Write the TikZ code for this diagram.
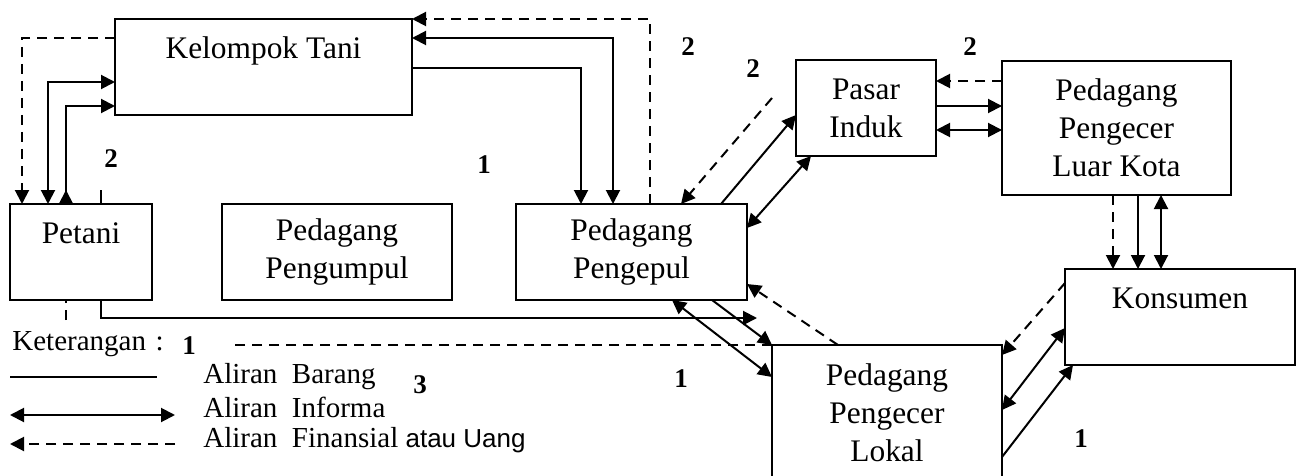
\documentclass[tikz,border=0pt]{standalone}
\usepackage{fontspec}
\setmainfont{Liberation Serif}
\newfontfamily\legsans{Liberation Sans}
\usetikzlibrary{arrows.meta, positioning}

\begin{document}
\begin{tikzpicture}[
    x=0.5pt, y=-0.5pt,
    box/.style={draw, line width=1pt, inner sep=0pt, outer sep=0pt, align=center, font=\fontsize{15.7}{19}\selectfont},
    num/.style={font=\fontsize{13.5}{16}\selectfont\bfseries, inner sep=0pt},
    legtext/.style={font=\fontsize{14.5}{17}\selectfont, inner sep=0pt},
    barang/.style={line width=1pt, -{Triangle[length=7pt,width=7pt]}},
    info/.style={line width=1pt, {Triangle[length=7pt,width=7pt]}-{Triangle[length=7pt,width=7pt]}},
    uang/.style={line width=1pt, dash pattern=on 5pt off 3.5pt, -{Triangle[length=7pt,width=7pt]}}
  ]
  \useasboundingbox (0,0) rectangle (1306,476);

  % Actors
  \node[box, minimum width=148.5pt, minimum height=48pt] (kt) at (263.5,67) {Kelompok Tani\\\mbox{}};
  \node[box, minimum width=71pt, minimum height=48pt] (pt) at (81,252) {Petani\\\mbox{}};
  \node[box, minimum width=115pt, minimum height=48pt] (pu) at (337,252) {Pedagang\\Pengumpul};
  \node[box, minimum width=115.5pt, minimum height=48pt] (pp) at (631.5,252) {Pedagang\\Pengepul};
  \node[box, minimum width=70pt, minimum height=48pt] (pi) at (866,108) {Pasar\\Induk};
  \node[box, minimum width=114.5pt, minimum height=67pt] (lk) at (1116.5,128) {Pedagang\\Pengecer\\Luar Kota};
  \node[box, minimum width=115pt, minimum height=48pt] (ks) at (1180,317) {Konsumen\\\mbox{}};
  \node[box, minimum width=115pt, minimum height=68pt] (pl) at (887,413) {Pedagang\\Pengecer\\Lokal};

  % Petani <-> Kelompok Tani
  \draw[uang] (kt.west |- 0,38) -| (pt.north -| 22,0);
  \draw[info] (pt.north -| 48,0) |- (kt.west |- 0,82);
  \draw[line width=1pt, {Triangle[reversed,length=7pt,width=7pt]}-{Triangle[length=7pt,width=7pt]}] (pt.north -| 66,0) |- (kt.west |- 0,106);
  \coordinate (stubTop) at (101,190);
  \draw[line width=1pt] (pt.north -| stubTop) -- (stubTop);

  % Petani -> Pengecer Lokal
  \draw[uang, -] (pl.north west) -| (pt.south -| 66,0);
  \coordinate (barangEnd) at (757,318);
  \draw[barang] (pt.south -| 101,0) |- (barangEnd);

  % Kelompok Tani <-> Pengepul
  \draw[uang] (pp.north -| 650,0) |- (kt.north east);
  \draw[info] (pp.north -| 613,0) |- (kt.east |- 0,38);
  \draw[barang] (kt.east |- 0,68) -| (pp.north -| 581,0);

  % Pengepul <-> Pasar Induk
  \coordinate (piFin) at (772,98);
  \draw[uang] (piFin) -- (pp.north -| 681,0);
  \draw[barang] (pp.north -| 721,0) -- (pi.west |- 0,115);
  \draw[info] (pp.east |- 0,228) -- (pi.south -| 811,0);

  % Pasar Induk <-> Luar Kota
  \draw[uang] (lk.west |- 0,81) -- (pi.east |- 0,81);
  \draw[barang] (pi.east |- 0,106) -- (lk.west |- 0,106);
  \draw[info] (pi.east |- 0,130) -- (lk.west |- 0,130);

  % Luar Kota -> Konsumen
  \draw[uang] (lk.south -| 1113,0) -- (ks.north -| 1113,0);
  \draw[barang] (lk.south -| 1138,0) -- (ks.north -| 1138,0);
  \draw[info] (lk.south -| 1161,0) -- (ks.north -| 1161,0);

  % Konsumen <-> Pengecer Lokal
  \draw[uang] (ks.west |- 0,283) -- (pl.east |- 0,355);
  \draw[info] (ks.west |- 0,328) -- (pl.east |- 0,410);
  \draw[barang] (pl.east |- 0,457) -- (ks.south -| 1073,0);

  % Pengecer Lokal <-> Pengepul
  \draw[uang] (pl.north -| 838,0) -- (pp.east |- 0,284);
  \draw[barang] (pp.south -| 712,0) -- (pl.north west);
  \draw[info] (pp.south -| 672,0) -- (pl.west |- 0,377);

  % Keterangan
  \node[legtext, fill=white, anchor=north west, inner xsep=3.5pt, text width=105pt, minimum height=18pt, align=left] (ket) at (5,326) {Keterangan :};
  \coordinate (legA1) at (10,377);
  \coordinate (legA2) at (157,377);
  \coordinate (legB1) at (10,415);
  \coordinate (legB2) at (175,415);
  \coordinate (legC1) at (10,444);
  \coordinate (legC2) at (175,444);
  \draw[line width=1pt] (legA1) -- (legA2);
  \draw[info] (legB1) -- (legB2);
  \draw[uang] (legC2) -- (legC1);
  \node[legtext, anchor=base west] (legA) at (203,383) {Aliran\ \ Barang};
  \node[legtext, anchor=base west] (legB) at (203,417) {Aliran\ \ Informa};
  \node[legtext, anchor=base west] (legC) at (203,447) {Aliran\ \ Finansial {\legsans\fontsize{13}{16}\selectfont atau Uang}};

  % Numbers
  \node[num] (n1) at (111,159) {2};
  \node[num] (n2) at (484,165) {1};
  \node[num] (n3) at (688,47) {2};
  \node[num] (n4) at (753,69) {2};
  \node[num] (n5) at (970,47) {2};
  \node[num] (n6) at (189,346) {1};
  \node[num] (n7) at (420,385) {3};
  \node[num] (n8) at (681,379) {1};
  \node[num] (n9) at (1081,439) {1};
\end{tikzpicture}
\end{document}
